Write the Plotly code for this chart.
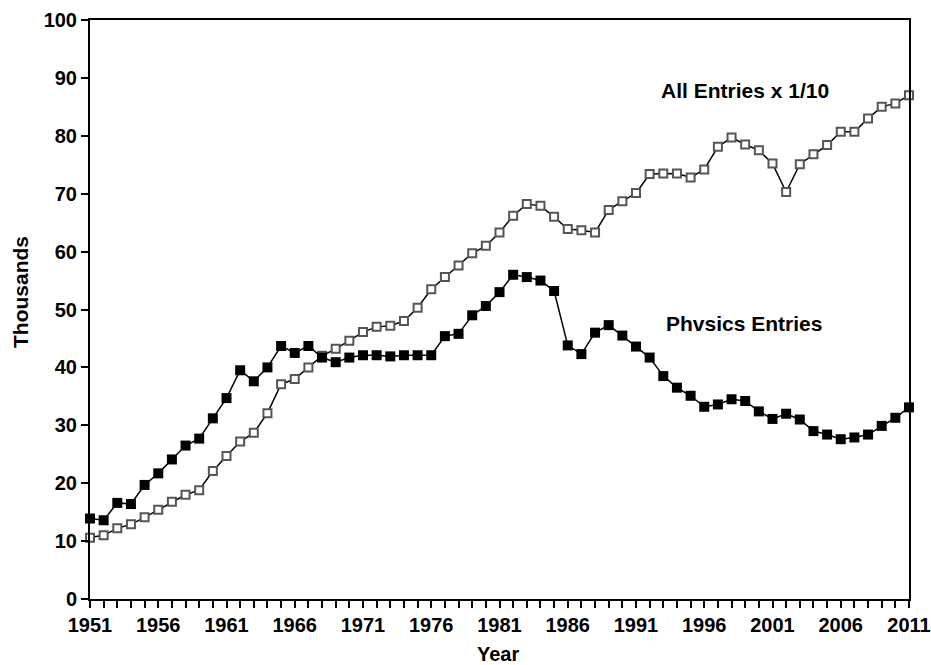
import plotly.graph_objects as go

years = list(range(1951, 2012))

physics_entries = [
    13.9, 13.6, 16.6, 16.4, 19.7, 21.7, 24.1, 26.5, 27.7, 31.2,
    34.7, 39.5, 37.6, 40.0, 43.7, 42.5, 43.7, 41.7, 40.9, 41.7,
    42.1, 42.1, 41.9, 42.1, 42.1, 42.1, 45.4, 45.8, 49.0, 50.6,
    53.0, 56.0, 55.6, 55.0, 53.2, 43.8, 42.3, 46.0, 47.3, 45.5,
    43.6, 41.7, 38.5, 36.5, 35.1, 33.2, 33.6, 34.5, 34.2, 32.4,
    31.1, 32.0, 31.0, 29.0, 28.4, 27.6, 27.9, 28.4, 29.9, 31.3,
    33.1,
]

all_entries_tenth = [
    10.6, 11.0, 12.2, 12.9, 14.1, 15.4, 16.8, 18.0, 18.8, 22.1,
    24.7, 27.2, 28.7, 32.1, 37.1, 38.0, 40.0, 42.0, 43.2, 44.6,
    46.1, 47.0, 47.2, 48.0, 50.3, 53.5, 55.6, 57.6, 59.7, 61.0,
    63.3, 66.2, 68.2, 67.9, 66.0, 63.9, 63.7, 63.3, 67.2, 68.7,
    70.1, 73.4, 73.5, 73.5, 72.8, 74.2, 78.1, 79.7, 78.5, 77.5,
    75.2, 70.3, 75.1, 76.8, 78.4, 80.7, 80.7, 83.0, 85.0, 85.6,
    87.0,
]

x_tick_labels = [str(y) for y in range(1951, 2012, 5)]
y_tick_vals = list(range(0, 101, 10))

FONT = "Liberation Sans, Arial, sans-serif"

# The page body margin is removed (see post_script), so the figure fills the window.
W, H = 931, 665
L, R, T, B = 90, 22, 20, 66
pw = W - L - R
ph = H - T - B


def px_to_paper(px, py):
    return (px - L) / pw, (H - B - py) / ph


fig = go.Figure()

fig.add_trace(go.Scatter(
    x=years, y=all_entries_tenth, mode="lines+markers",
    line=dict(color="black", width=1.5),
    marker=dict(symbol="square", size=8, color="white",
                line=dict(color="#555555", width=2)),
    cliponaxis=False, showlegend=False,
))

fig.add_trace(go.Scatter(
    x=years, y=physics_entries, mode="lines+markers",
    line=dict(color="black", width=1.5),
    marker=dict(symbol="square", size=10, color="black",
                line=dict(color="black", width=0)),
    cliponaxis=False, showlegend=False,
))

yx, yy = px_to_paper(498, 654)
tx, ty = px_to_paper(20, 292)

fig.update_layout(
    width=W, height=H,
    margin=dict(l=L, r=R, t=T, b=B, autoexpand=False),
    paper_bgcolor="white", plot_bgcolor="white",
    font=dict(family=FONT, color="black"),
    xaxis=dict(
        range=[1951, 2011], automargin=False,
        tickmode="array",
        tickvals=[int(t) for t in x_tick_labels],
        ticktext=x_tick_labels,
        ticks="outside", ticklen=7, tickwidth=2, tickcolor="black",
        minor=dict(dtick=1, tick0=1951, ticks="outside", ticklen=7,
                   tickwidth=2, tickcolor="black", showgrid=False),
        showline=True, linecolor="black", linewidth=2, mirror=True,
        showgrid=False, zeroline=False,
        tickfont=dict(family=FONT, size=20, weight="bold", color="black"),
    ),
    yaxis=dict(
        range=[0, 100], automargin=False,
        tickvals=y_tick_vals,
        ticks="outside", ticklen=7, tickwidth=2, tickcolor="black",
        showline=True, linecolor="black", linewidth=2, mirror=True,
        showgrid=False, zeroline=False,
        tickfont=dict(family=FONT, size=20, weight="bold", color="black"),
    ),
    annotations=[
        dict(text="All Entries x 1/10", x=1999.0, y=87.9, xref="x", yref="y",
             showarrow=False, font=dict(family=FONT, size=21, weight="bold")),
        dict(text="Phvsics Entries", x=1998.9, y=47.5, xref="x", yref="y",
             showarrow=False, font=dict(family=FONT, size=21, weight="bold")),
        dict(text="Year", x=yx, y=yy, xref="paper", yref="paper",
             xanchor="center", yanchor="middle",
             showarrow=False, font=dict(family=FONT, size=20, weight="bold")),
        dict(text="Thousands", x=tx, y=ty, xref="paper", yref="paper",
             xanchor="center", yanchor="middle",
             showarrow=False, textangle=-90,
             font=dict(family=FONT, size=21, weight="bold")),
    ],
)

fig.write_html(
    "out.html",
    config={"displayModeBar": False, "staticPlot": True},
    post_script="document.body.style.margin='0px';document.body.style.overflow='hidden';",
)
